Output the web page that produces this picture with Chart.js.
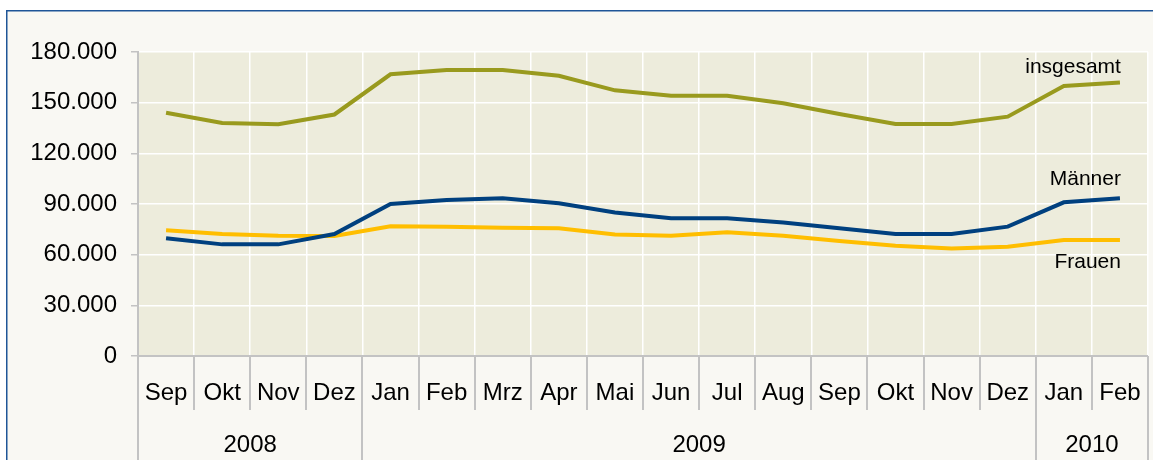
<!DOCTYPE html>
<html><head><meta charset="utf-8">
<script src="https://cdn.jsdelivr.net/npm/chart.js@4.4.1/dist/chart.umd.min.js"></script>
<style>html,body{margin:0;padding:0;background:#fff;}canvas{display:block;}</style>
</head><body>
<canvas id="c" width="1153" height="460"></canvas>
<script>
const months = ['Sep','Okt','Nov','Dez','Jan','Feb','Mrz','Apr','Mai','Jun','Jul','Aug','Sep','Okt','Nov','Dez','Jan','Feb'];
const years = ['2008','2009','2010'];
const yearStart = [0, 4, 16];
const yearEnd = [3, 15, 17];
const seriesNames = ['insgesamt', 'Männer', 'Frauen'];
const insgesamt = [144000,138000,137200,143000,166800,169300,169300,165900,157300,154100,154100,149600,143300,137400,137400,141700,159900,162000];
const maenner = [69700,66100,66100,72200,90000,92400,93400,90400,85000,81500,81500,79100,75600,72200,72200,76600,91000,93400];
const frauen = [74400,72200,71200,71000,76800,76500,76000,75600,72000,71200,73200,71200,68100,65300,63700,64700,68700,68700];
const yMin = 0, yMax = 180000, yStep = 30000;

const FONT = '"Liberation Sans", Arial, sans-serif';
const GREY = '#c3c3c3';

function fmt(v){ return String(v).replace(/\B(?=(\d{3})+(?!\d))/g, '.'); }

const deco = {
  id: 'deco',
  beforeDraw(chart){
    const c = chart.ctx, a = chart.chartArea;
    c.save();
    c.fillStyle = '#ffffff'; c.fillRect(0,0,chart.width,chart.height);
    c.fillStyle = '#f9f8f3'; c.fillRect(6,10,chart.width+10,chart.height);
    c.strokeStyle = '#1f5597'; c.lineWidth = 1.5;
    c.strokeRect(6.75,10.75,chart.width+20,chart.height+20);
    c.fillStyle = '#edecdc'; c.fillRect(a.left,a.top,a.right-a.left,a.bottom-a.top);
    c.restore();
  },
  afterDraw(chart){
    const c = chart.ctx, a = chart.chartArea;
    const w = (a.right - a.left) / months.length;
    c.save();
    c.strokeStyle = GREY; c.lineWidth = 2;
    const yearBounds = new Set();
    yearStart.forEach(s => yearBounds.add(s));
    yearBounds.add(months.length);
    for (let i = 0; i <= months.length; i++) {
      const x = Math.round(a.left + i * w);
      const yb = yearBounds.has(i) ? chart.height : 410;
      c.beginPath(); c.moveTo(x, a.bottom); c.lineTo(x, yb); c.stroke();
    }
    c.beginPath(); c.moveTo(a.left, a.bottom); c.lineTo(a.right, a.bottom); c.stroke();
    c.fillStyle = '#000'; c.font = '24px ' + FONT; c.textAlign = 'center'; c.textBaseline = 'alphabetic';
    years.forEach((y, k) => {
      const x0 = a.left + yearStart[k] * w, x1 = a.left + (yearEnd[k] + 1) * w;
      c.fillText(y, (x0 + x1) / 2, 451.5);
    });
    const offs = [-15, -19, 22];
    c.font = '21px ' + FONT; c.textAlign = 'right'; c.textBaseline = 'middle';
    chart.data.datasets.forEach((ds, k) => {
      const meta = chart.getDatasetMeta(k);
      const p = meta.data[meta.data.length - 1];
      c.fillText(ds.label, p.x + 1, p.y + offs[k]);
    });
    c.restore();
  }
};

new Chart(document.getElementById('c'), {
  type: 'line',
  data: {
    labels: months,
    datasets: [
      {label: seriesNames[0], data: insgesamt, borderColor: '#999a1e', borderWidth: 4, pointRadius: 0, tension: 0},
      {label: seriesNames[1], data: maenner, borderColor: '#00407f', borderWidth: 4, pointRadius: 0, tension: 0},
      {label: seriesNames[2], data: frauen, borderColor: '#ffbe00', borderWidth: 4, pointRadius: 0, tension: 0}
    ]
  },
  options: {
    responsive: false,
    devicePixelRatio: 1,
    animation: false,
    layout: {padding: {left: 0, right: 5, top: 52, bottom: 0}},
    plugins: {legend: {display: false}, tooltip: {enabled: false}},
    scales: {
      x: {
        type: 'category',
        offset: true,
        grid: {offset: true, color: '#ffffff', lineWidth: 1.5, drawTicks: true, tickLength: 23, tickColor: 'rgba(0,0,0,0)'},
        border: {display: false},
        ticks: {color: '#000', font: {family: FONT, size: 24}, padding: 0, maxRotation: 0, autoSkip: false},
        afterFit(s){ s.height = 104; }
      },
      y: {
        min: yMin, max: yMax,
        grid: {color: ctx => ctx.tick && ctx.tick.value === 0 ? GREY : '#ffffff', lineWidth: 1.5, tickLength: 7, tickColor: GREY},
        border: {display: true, color: GREY, width: 2},
        ticks: {stepSize: yStep, color: '#000', font: {family: FONT, size: 24}, padding: 14, callback: v => fmt(v)},
        afterFit(s){ s.width = 138; }
      }
    }
  },
  plugins: [deco]
});
</script>
</body></html>
